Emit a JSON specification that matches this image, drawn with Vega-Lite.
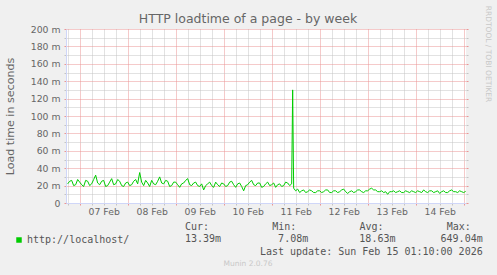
{
  "$schema": "https://vega.github.io/schema/vega-lite/v6.json",
  "width": 400,
  "height": 174,
  "autosize": "none",
  "padding": {"left": 66, "top": 29, "right": 31, "bottom": 72},
  "background": "#F0F0F0",
  "config": {"view": {"fill": "#FFFFFF", "stroke": null}},
  "title": {
    "text": "HTTP loadtime of a page - by week",
    "anchor": "middle",
    "frame": "group",
    "dx": -18,
    "dy": 24,
    "offset": 4,
    "font": "DejaVu Sans",
    "fontSize": 12.5,
    "fontWeight": "normal",
    "color": "#666666"
  },
  "datasets": {
    "series": [
      {"t": "2026-02-06T18:00:00Z", "v": 0.022}, {"t": "2026-02-06T19:00:00Z", "v": 0.025}, {"t": "2026-02-06T20:00:00Z", "v": 0.026}, {"t": "2026-02-06T21:00:00Z", "v": 0.020}, {"t": "2026-02-06T22:00:00Z", "v": 0.021}, {"t": "2026-02-06T23:00:00Z", "v": 0.027},
      {"t": "2026-02-07T00:00:00Z", "v": 0.024}, {"t": "2026-02-07T01:00:00Z", "v": 0.021}, {"t": "2026-02-07T02:00:00Z", "v": 0.019}, {"t": "2026-02-07T03:00:00Z", "v": 0.026}, {"t": "2026-02-07T04:00:00Z", "v": 0.025}, {"t": "2026-02-07T05:00:00Z", "v": 0.020},
      {"t": "2026-02-07T06:00:00Z", "v": 0.022}, {"t": "2026-02-07T07:00:00Z", "v": 0.027}, {"t": "2026-02-07T08:00:00Z", "v": 0.032}, {"t": "2026-02-07T09:00:00Z", "v": 0.023}, {"t": "2026-02-07T10:00:00Z", "v": 0.021}, {"t": "2026-02-07T11:00:00Z", "v": 0.025},
      {"t": "2026-02-07T12:00:00Z", "v": 0.026}, {"t": "2026-02-07T13:00:00Z", "v": 0.019}, {"t": "2026-02-07T14:00:00Z", "v": 0.020}, {"t": "2026-02-07T15:00:00Z", "v": 0.024}, {"t": "2026-02-07T16:00:00Z", "v": 0.028}, {"t": "2026-02-07T17:00:00Z", "v": 0.021},
      {"t": "2026-02-07T18:00:00Z", "v": 0.022}, {"t": "2026-02-07T19:00:00Z", "v": 0.027}, {"t": "2026-02-07T20:00:00Z", "v": 0.025}, {"t": "2026-02-07T21:00:00Z", "v": 0.020}, {"t": "2026-02-07T22:00:00Z", "v": 0.019}, {"t": "2026-02-07T23:00:00Z", "v": 0.023},
      {"t": "2026-02-08T00:00:00Z", "v": 0.024}, {"t": "2026-02-08T01:00:00Z", "v": 0.020}, {"t": "2026-02-08T02:00:00Z", "v": 0.021}, {"t": "2026-02-08T03:00:00Z", "v": 0.025}, {"t": "2026-02-08T04:00:00Z", "v": 0.027}, {"t": "2026-02-08T05:00:00Z", "v": 0.022},
      {"t": "2026-02-08T06:00:00Z", "v": 0.035}, {"t": "2026-02-08T07:00:00Z", "v": 0.024}, {"t": "2026-02-08T08:00:00Z", "v": 0.020}, {"t": "2026-02-08T09:00:00Z", "v": 0.026}, {"t": "2026-02-08T10:00:00Z", "v": 0.023}, {"t": "2026-02-08T11:00:00Z", "v": 0.019},
      {"t": "2026-02-08T12:00:00Z", "v": 0.026}, {"t": "2026-02-08T13:00:00Z", "v": 0.022}, {"t": "2026-02-08T14:00:00Z", "v": 0.021}, {"t": "2026-02-08T15:00:00Z", "v": 0.025}, {"t": "2026-02-08T16:00:00Z", "v": 0.030}, {"t": "2026-02-08T17:00:00Z", "v": 0.023},
      {"t": "2026-02-08T18:00:00Z", "v": 0.022}, {"t": "2026-02-08T19:00:00Z", "v": 0.026}, {"t": "2026-02-08T20:00:00Z", "v": 0.025}, {"t": "2026-02-08T21:00:00Z", "v": 0.019}, {"t": "2026-02-08T22:00:00Z", "v": 0.020}, {"t": "2026-02-08T23:00:00Z", "v": 0.024},
      {"t": "2026-02-09T00:00:00Z", "v": 0.024}, {"t": "2026-02-09T01:00:00Z", "v": 0.021}, {"t": "2026-02-09T02:00:00Z", "v": 0.018}, {"t": "2026-02-09T03:00:00Z", "v": 0.022}, {"t": "2026-02-09T04:00:00Z", "v": 0.023}, {"t": "2026-02-09T05:00:00Z", "v": 0.026},
      {"t": "2026-02-09T06:00:00Z", "v": 0.028}, {"t": "2026-02-09T07:00:00Z", "v": 0.021}, {"t": "2026-02-09T08:00:00Z", "v": 0.020}, {"t": "2026-02-09T09:00:00Z", "v": 0.023}, {"t": "2026-02-09T10:00:00Z", "v": 0.024}, {"t": "2026-02-09T11:00:00Z", "v": 0.020},
      {"t": "2026-02-09T12:00:00Z", "v": 0.019}, {"t": "2026-02-09T13:00:00Z", "v": 0.022}, {"t": "2026-02-09T14:00:00Z", "v": 0.015}, {"t": "2026-02-09T15:00:00Z", "v": 0.020}, {"t": "2026-02-09T16:00:00Z", "v": 0.022}, {"t": "2026-02-09T17:00:00Z", "v": 0.024},
      {"t": "2026-02-09T18:00:00Z", "v": 0.020}, {"t": "2026-02-09T19:00:00Z", "v": 0.018}, {"t": "2026-02-09T20:00:00Z", "v": 0.024}, {"t": "2026-02-09T21:00:00Z", "v": 0.021}, {"t": "2026-02-09T22:00:00Z", "v": 0.019}, {"t": "2026-02-09T23:00:00Z", "v": 0.023},
      {"t": "2026-02-10T00:00:00Z", "v": 0.022}, {"t": "2026-02-10T01:00:00Z", "v": 0.019}, {"t": "2026-02-10T02:00:00Z", "v": 0.020}, {"t": "2026-02-10T03:00:00Z", "v": 0.024}, {"t": "2026-02-10T04:00:00Z", "v": 0.025}, {"t": "2026-02-10T05:00:00Z", "v": 0.021},
      {"t": "2026-02-10T06:00:00Z", "v": 0.018}, {"t": "2026-02-10T07:00:00Z", "v": 0.022}, {"t": "2026-02-10T08:00:00Z", "v": 0.023}, {"t": "2026-02-10T09:00:00Z", "v": 0.019}, {"t": "2026-02-10T10:00:00Z", "v": 0.014}, {"t": "2026-02-10T11:00:00Z", "v": 0.020},
      {"t": "2026-02-10T12:00:00Z", "v": 0.021}, {"t": "2026-02-10T13:00:00Z", "v": 0.024}, {"t": "2026-02-10T14:00:00Z", "v": 0.026}, {"t": "2026-02-10T15:00:00Z", "v": 0.021}, {"t": "2026-02-10T16:00:00Z", "v": 0.020}, {"t": "2026-02-10T17:00:00Z", "v": 0.023},
      {"t": "2026-02-10T18:00:00Z", "v": 0.023}, {"t": "2026-02-10T19:00:00Z", "v": 0.018}, {"t": "2026-02-10T20:00:00Z", "v": 0.019}, {"t": "2026-02-10T21:00:00Z", "v": 0.022}, {"t": "2026-02-10T22:00:00Z", "v": 0.024}, {"t": "2026-02-10T23:00:00Z", "v": 0.020},
      {"t": "2026-02-11T00:00:00Z", "v": 0.021}, {"t": "2026-02-11T01:00:00Z", "v": 0.023}, {"t": "2026-02-11T02:00:00Z", "v": 0.018}, {"t": "2026-02-11T03:00:00Z", "v": 0.021}, {"t": "2026-02-11T04:00:00Z", "v": 0.022}, {"t": "2026-02-11T05:00:00Z", "v": 0.019},
      {"t": "2026-02-11T06:00:00Z", "v": 0.020}, {"t": "2026-02-11T07:00:00Z", "v": 0.024}, {"t": "2026-02-11T08:00:00Z", "v": 0.023}, {"t": "2026-02-11T09:00:00Z", "v": 0.020}, {"t": "2026-02-11T10:00:00Z", "v": 0.022}, {"t": "2026-02-11T10:30:00Z", "v": 0.130},
      {"t": "2026-02-11T11:00:00Z", "v": 0.017}, {"t": "2026-02-11T12:00:00Z", "v": 0.014}, {"t": "2026-02-11T13:00:00Z", "v": 0.016}, {"t": "2026-02-11T14:00:00Z", "v": 0.012}, {"t": "2026-02-11T15:00:00Z", "v": 0.014}, {"t": "2026-02-11T16:00:00Z", "v": 0.015},
      {"t": "2026-02-11T17:00:00Z", "v": 0.012}, {"t": "2026-02-11T18:00:00Z", "v": 0.013}, {"t": "2026-02-11T19:00:00Z", "v": 0.015}, {"t": "2026-02-11T20:00:00Z", "v": 0.014}, {"t": "2026-02-11T21:00:00Z", "v": 0.012}, {"t": "2026-02-11T22:00:00Z", "v": 0.012},
      {"t": "2026-02-11T23:00:00Z", "v": 0.014},
      {"t": "2026-02-12T00:00:00Z", "v": 0.014}, {"t": "2026-02-12T01:00:00Z", "v": 0.012}, {"t": "2026-02-12T02:00:00Z", "v": 0.013}, {"t": "2026-02-12T03:00:00Z", "v": 0.015}, {"t": "2026-02-12T04:00:00Z", "v": 0.015}, {"t": "2026-02-12T05:00:00Z", "v": 0.012},
      {"t": "2026-02-12T06:00:00Z", "v": 0.012}, {"t": "2026-02-12T07:00:00Z", "v": 0.014}, {"t": "2026-02-12T08:00:00Z", "v": 0.014}, {"t": "2026-02-12T09:00:00Z", "v": 0.012}, {"t": "2026-02-12T10:00:00Z", "v": 0.013}, {"t": "2026-02-12T11:00:00Z", "v": 0.015},
      {"t": "2026-02-12T12:00:00Z", "v": 0.016}, {"t": "2026-02-12T13:00:00Z", "v": 0.013}, {"t": "2026-02-12T14:00:00Z", "v": 0.011}, {"t": "2026-02-12T15:00:00Z", "v": 0.013}, {"t": "2026-02-12T16:00:00Z", "v": 0.014}, {"t": "2026-02-12T17:00:00Z", "v": 0.012},
      {"t": "2026-02-12T18:00:00Z", "v": 0.013}, {"t": "2026-02-12T19:00:00Z", "v": 0.015}, {"t": "2026-02-12T20:00:00Z", "v": 0.015}, {"t": "2026-02-12T21:00:00Z", "v": 0.013}, {"t": "2026-02-12T22:00:00Z", "v": 0.012}, {"t": "2026-02-12T23:00:00Z", "v": 0.014},
      {"t": "2026-02-13T00:00:00Z", "v": 0.014}, {"t": "2026-02-13T01:00:00Z", "v": 0.016}, {"t": "2026-02-13T02:00:00Z", "v": 0.017}, {"t": "2026-02-13T03:00:00Z", "v": 0.015}, {"t": "2026-02-13T04:00:00Z", "v": 0.015}, {"t": "2026-02-13T05:00:00Z", "v": 0.013},
      {"t": "2026-02-13T06:00:00Z", "v": 0.013}, {"t": "2026-02-13T07:00:00Z", "v": 0.014}, {"t": "2026-02-13T08:00:00Z", "v": 0.012}, {"t": "2026-02-13T09:00:00Z", "v": 0.013}, {"t": "2026-02-13T10:00:00Z", "v": 0.010}, {"t": "2026-02-13T11:00:00Z", "v": 0.013},
      {"t": "2026-02-13T12:00:00Z", "v": 0.013}, {"t": "2026-02-13T13:00:00Z", "v": 0.014}, {"t": "2026-02-13T14:00:00Z", "v": 0.012}, {"t": "2026-02-13T15:00:00Z", "v": 0.013}, {"t": "2026-02-13T16:00:00Z", "v": 0.014}, {"t": "2026-02-13T17:00:00Z", "v": 0.012},
      {"t": "2026-02-13T18:00:00Z", "v": 0.012}, {"t": "2026-02-13T19:00:00Z", "v": 0.014}, {"t": "2026-02-13T20:00:00Z", "v": 0.013}, {"t": "2026-02-13T21:00:00Z", "v": 0.012}, {"t": "2026-02-13T22:00:00Z", "v": 0.014}, {"t": "2026-02-13T23:00:00Z", "v": 0.013},
      {"t": "2026-02-14T00:00:00Z", "v": 0.012}, {"t": "2026-02-14T01:00:00Z", "v": 0.014}, {"t": "2026-02-14T02:00:00Z", "v": 0.013}, {"t": "2026-02-14T03:00:00Z", "v": 0.012}, {"t": "2026-02-14T04:00:00Z", "v": 0.015}, {"t": "2026-02-14T05:00:00Z", "v": 0.013},
      {"t": "2026-02-14T06:00:00Z", "v": 0.012}, {"t": "2026-02-14T07:00:00Z", "v": 0.014}, {"t": "2026-02-14T08:00:00Z", "v": 0.014}, {"t": "2026-02-14T09:00:00Z", "v": 0.012}, {"t": "2026-02-14T10:00:00Z", "v": 0.013}, {"t": "2026-02-14T11:00:00Z", "v": 0.014},
      {"t": "2026-02-14T12:00:00Z", "v": 0.011}, {"t": "2026-02-14T13:00:00Z", "v": 0.013}, {"t": "2026-02-14T14:00:00Z", "v": 0.014}, {"t": "2026-02-14T15:00:00Z", "v": 0.012}, {"t": "2026-02-14T16:00:00Z", "v": 0.012}, {"t": "2026-02-14T17:00:00Z", "v": 0.014},
      {"t": "2026-02-14T18:00:00Z", "v": 0.015}, {"t": "2026-02-14T19:00:00Z", "v": 0.013}, {"t": "2026-02-14T20:00:00Z", "v": 0.013}, {"t": "2026-02-14T21:00:00Z", "v": 0.012}, {"t": "2026-02-14T22:00:00Z", "v": 0.014}, {"t": "2026-02-14T23:00:00Z", "v": 0.013},
      {"t": "2026-02-15T00:00:00Z", "v": 0.012}, {"t": "2026-02-15T01:00:00Z", "v": 0.01339}
    ],
    "legendtext": [
      {"column": "Cur", "kind": "label", "text": "Cur:"},
      {"column": "Min", "kind": "label", "text": "Min:"},
      {"column": "Avg", "kind": "label", "text": "Avg:"},
      {"column": "Max", "kind": "label", "text": "Max:"},
      {"column": "Cur", "kind": "value", "text": "13.39m"},
      {"column": "Min", "kind": "value", "text": "7.08m"},
      {"column": "Avg", "kind": "value", "text": "18.63m"},
      {"column": "Max", "kind": "value", "text": "649.04m"},
      {"column": "Max", "kind": "update", "text": "Last update: Sun Feb 15 01:10:00 2026"},
      {"column": "center", "kind": "credit", "text": "Munin 2.0.76"}
    ]
  },
  "layer": [
    {
      "data": {"name": "series"},
      "mark": {"type": "line", "strokeWidth": 1},
      "encoding": {
        "x": {
          "field": "t",
          "type": "temporal",
          "scale": {"type": "utc", "domain": [1770397800000, 1771117800000]},
          "axis": {
            "orient": "bottom",
            "values": [1770400800000, 1770422400000, 1770444000000, 1770465600000, 1770487200000, 1770508800000, 1770530400000, 1770552000000, 1770573600000, 1770595200000, 1770616800000, 1770638400000, 1770660000000, 1770681600000, 1770703200000, 1770724800000, 1770746400000, 1770768000000, 1770789600000, 1770811200000, 1770832800000, 1770854400000, 1770876000000, 1770897600000, 1770919200000, 1770940800000, 1770962400000, 1770984000000, 1771005600000, 1771027200000, 1771048800000, 1771070400000, 1771092000000, 1771113600000],
            "grid": true,
            "gridColor": {"condition": {"test": "utchours(datum.value) == 0", "value": "#EB9595"}, "value": "#C4C4C4"},
            "gridDash": [1, 1],
            "ticks": true,
            "tickSize": 2,
            "tickColor": {"condition": {"test": "utchours(datum.value) == 0", "value": "#EB9595"}, "value": "#C4C4C4"},
            "domainColor": "#CFD6F8",
            "labelExpr": "utchours(datum.value) == 12 ? utcFormat(datum.value, '%d %b') : ''",
            "labelFont": "DejaVu Sans",
            "labelFontSize": 9.3,
            "labelColor": "#666666",
            "labelPadding": 2,
            "labelOverlap": false,
            "labelFlush": false,
            "title": null
          }
        },
        "y": {
          "field": "v",
          "type": "quantitative",
          "scale": {"domain": [0, 0.2], "nice": false},
          "axis": {
            "orient": "left",
            "values": [0, 0.01, 0.02, 0.03, 0.04, 0.05, 0.06, 0.07, 0.08, 0.09, 0.1, 0.11, 0.12, 0.13, 0.14, 0.15, 0.16, 0.17, 0.18, 0.19, 0.2],
            "grid": true,
            "gridColor": {"condition": {"test": "round(datum.value * 1000) % 20 == 0", "value": "#EB9595"}, "value": "#C4C4C4"},
            "gridDash": [1, 1],
            "tickSize": 2,
            "tickColor": {"condition": {"test": "round(datum.value * 1000) % 20 == 0", "value": "#EB9595"}, "value": "#C4C4C4"},
            "domainColor": "#CFD6F8",
            "labelExpr": "round(datum.value * 1000) % 20 != 0 ? '' : (datum.value == 0 ? '0\u00a0\u00a0' : round(datum.value * 1000) + ' m')",
            "labelFont": "DejaVu Sans",
            "labelFontSize": 9.3,
            "labelColor": "#666666",
            "labelPadding": 4,
            "labelOverlap": false,
            "labelFlush": false,
            "title": "Load time in seconds",
            "titleX": -55.5,
            "titleY": 87,
            "titleBaseline": "middle",
            "titleFont": "DejaVu Sans",
            "titleFontSize": 11.1,
            "titleFontWeight": "normal",
            "titleColor": "#666666"
          }
        },
        "color": {
          "datum": "http://localhost/",
          "type": "nominal",
          "scale": {"range": ["#00CC00"]},
          "legend": {
            "orient": "none",
            "legendX": -52,
            "legendY": 206,
            "title": null,
            "padding": 0,
            "symbolType": "square",
            "symbolSize": 30,
            "symbolFillColor": "#00CC00",
            "symbolStrokeWidth": 0,
            "labelFont": "DejaVu Sans Mono",
            "labelFontSize": 10,
            "labelColor": "#555555",
            "labelOffset": 3,
            "labelLimit": 300
          }
        }
      }
    },
    {
      "data": {"name": "series"},
      "mark": {"type": "point", "opacity": 0},
      "encoding": {
        "y": {
          "field": "v",
          "type": "quantitative",
          "scale": {"domain": [0, 0.2], "nice": false},
          "axis": {
            "orient": "right",
            "values": [0, 0.01, 0.02, 0.03, 0.04, 0.05, 0.06, 0.07, 0.08, 0.09, 0.1, 0.11, 0.12, 0.13, 0.14, 0.15, 0.16, 0.17, 0.18, 0.19, 0.2],
            "grid": false,
            "domain": false,
            "labels": false,
            "ticks": true,
            "tickSize": 2,
            "tickColor": {"condition": {"test": "round(datum.value * 1000) % 20 == 0", "value": "#EB9595"}, "value": "#C4C4C4"},
            "title": "RRDTOOL / TOBI OETIKER",
            "titleAngle": 90,
            "titleX": 21.5,
            "titleY": 24.5,
            "titleBaseline": "middle",
            "titleFont": "DejaVu Sans",
            "titleFontSize": 7.5,
            "titleFontWeight": "normal",
            "titleColor": "#C8C8C8"
          }
        }
      }
    },
    {
      "data": {"name": "legendtext"},
      "transform": [{"filter": "datum.kind == 'label'"}],
      "mark": {"type": "text", "align": "left", "baseline": "middle", "font": "DejaVu Sans Mono", "fontSize": 10, "color": "#555555"},
      "encoding": {
        "x": {"field": "column", "type": "nominal", "scale": {"type": "point", "domain": ["Cur", "Min", "Avg", "Max"], "range": [119, 380.7], "padding": 0}, "axis": null},
        "y": {"field": "kind", "type": "nominal", "scale": {"type": "point", "domain": ["label", "value", "update", "credit"], "range": [198, 235], "padding": 0}, "axis": null},
        "text": {"field": "text"}
      }
    },
    {
      "data": {"name": "legendtext"},
      "transform": [{"filter": "datum.kind == 'value' || datum.kind == 'update'"}],
      "mark": {"type": "text", "align": "right", "baseline": "middle", "font": "DejaVu Sans Mono", "fontSize": 10, "color": "#555555"},
      "encoding": {
        "x": {"field": "column", "type": "nominal", "scale": {"type": "point", "domain": ["Cur", "Min", "Avg", "Max"], "range": [155, 416.7], "padding": 0}, "axis": null},
        "y": {"field": "kind", "type": "nominal", "scale": {"type": "point", "domain": ["label", "value", "update", "credit"], "range": [198, 235], "padding": 0}, "axis": null},
        "text": {"field": "text"}
      }
    },
    {
      "data": {"name": "legendtext"},
      "transform": [{"filter": "datum.kind == 'credit'"}],
      "mark": {"type": "text", "align": "center", "baseline": "middle", "font": "DejaVu Sans", "fontSize": 7.5, "color": "#C8C8C8"},
      "encoding": {
        "x": {"field": "column", "type": "nominal", "scale": {"type": "point", "domain": ["center"], "range": [182, 182], "padding": 0}, "axis": null},
        "y": {"field": "kind", "type": "nominal", "scale": {"type": "point", "domain": ["label", "value", "update", "credit"], "range": [198, 235], "padding": 0}, "axis": null},
        "text": {"field": "text"}
      }
    }
  ],
  "resolve": {"scale": {"x": "independent", "y": "independent"}}
}
